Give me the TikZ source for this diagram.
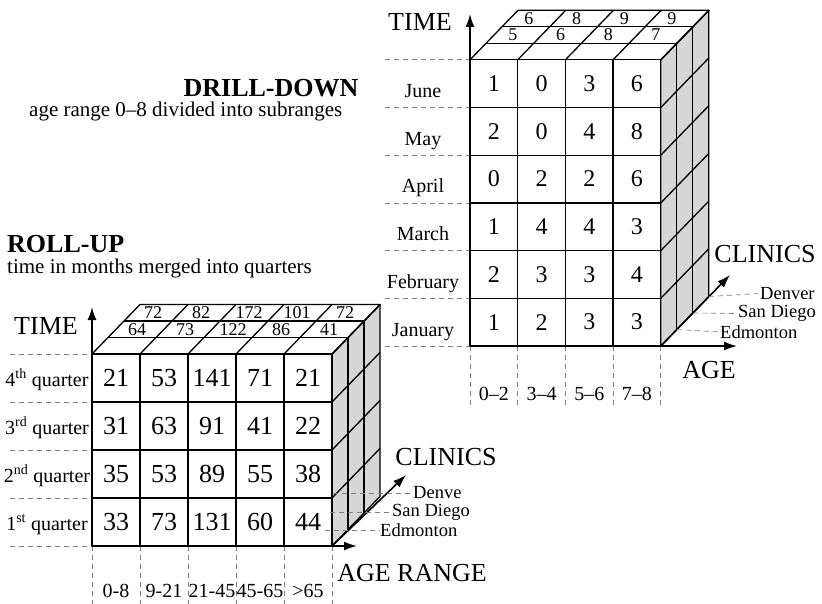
\documentclass[tikz,border=0pt]{standalone}
\usepackage{fontspec}
\setmainfont{Liberation Serif}
\usetikzlibrary{
    arrows.meta, % For arrow tips
    calc,        % For coordinate calculations
    positioning  % For label positioning
}
\definecolor{sidegray}{gray}{0.84}

% Visible faces of a data cube, front-bottom-left corner at the origin
% #1 = columns, #2 = rows, #3 = cell size (3 layers deep)
\newcommand{\cubefaces}[3]{%
    % Side face (grey)
    \filldraw[cube, fill=sidegray] (#1*#3,0) -- ++(48,-49.5) -- ++(0,-#2*#3) -- (#1*#3,-#2*#3) -- cycle;
    \foreach \k in {1,2} \draw[cube] (#1*#3+16*\k,-16.5*\k) -- ++(0,-#2*#3);
    \foreach \j in {1,...,#2} \draw[cube] (#1*#3,-\j*#3) -- ++(48,-49.5);
    % Top face
    \filldraw[cube, fill=white] (0,-#2*#3) -- ++(#1*#3,0) -- ++(48,-49.5) -- ++(-#1*#3,0) -- cycle;
    \foreach \k in {1,2} \draw[cube] (16*\k,-#2*#3-16.5*\k) -- ++(#1*#3,0);
    \foreach \i in {1,...,#1} \draw[cube] (\i*#3,-#2*#3) -- ++(48,-49.5);
    % Front face
    \filldraw[cube, fill=white] (0,0) rectangle (#1*#3,-#2*#3);
    \foreach \i in {1,...,#1} \draw[cube] (\i*#3,0) -- ++(0,-#2*#3);
    \foreach \j in {1,...,#2} \draw[cube] (0,-\j*#3) -- ++(#1*#3,0);
}

\begin{document}
\begin{tikzpicture}[
    x=1pt, y=-1pt,
    >=Latex,
    cube/.style={line width=1.3pt, line join=round},
    guide/.style={gray, line width=0.7pt, dash pattern=on 5pt off 4pt},
    axis/.style={-{Latex[length=13pt,width=9pt]}, line width=1.6pt},
    bignum/.style={font=\fontsize{24}{26}\selectfont},
    bignumB/.style={font=\fontsize{26}{28}\selectfont},
    topnum/.style={font=\fontsize{18}{20}\selectfont, inner sep=0pt},
    lbl/.style={font=\fontsize{20}{22}\selectfont, inner sep=1pt},
    clinic/.style={font=\fontsize{18.5}{20}\selectfont, inner sep=0pt},
    axislabel/.style={font=\fontsize{26}{28}\selectfont},
    headline/.style={font=\bfseries\fontsize{26}{28}\selectfont, inner sep=0pt},
    note/.style={font=\fontsize{21}{24}\selectfont, inner sep=0pt}
]
    \useasboundingbox (0,0) rectangle (822,604);

    % Headings
    \node[headline, anchor=base] (drill) at (271,97) {DRILL-DOWN};
    \node[note, anchor=base west] (drillnote) at (29,117) {age range 0–8 divided into subranges};
    \node[headline, anchor=base west] (roll) at (7,252) {ROLL-UP};
    \node[note, anchor=base west] (rollnote) at (7,273) {time in months merged into quarters};

    % ---------- Drill-down cube (months x age) ----------
    \begin{scope}[shift={(470,346)}]
        \def\cellT{47.7}
        % Guides to the row and column labels
        \foreach \j in {0,...,6} \draw[guide] (-85,{-\j*\cellT}) -- (0,{-\j*\cellT});
        \foreach \i in {0,...,4} \draw[guide] ({\i*\cellT},0) -- ({\i*\cellT},59);

        \cubefaces{4}{6}{47.7}

        % Front face values, bottom row first
        \foreach \row [count=\j] in {{1,2,3,3},{2,3,3,4},{1,4,4,3},{0,2,2,6},{2,0,4,8},{1,0,3,6}} {
            \foreach \val [count=\i] in \row
                \node[bignum] (dT-\j-\i) at ({(\i-0.5)*\cellT},{-(\j-0.5)*\cellT}) {\val};
        }
        % Top face values
        \foreach \val [count=\i] in {5,6,8,7}
            \node[topnum] (tT-a\i) at ({(\i-0.5)*\cellT+19},{-6*\cellT-24.75}) {\val};
        \foreach \val [count=\i] in {6,8,9,9}
            \node[topnum] (tT-b\i) at ({(\i-0.5)*\cellT+35},{-6*\cellT-41.25}) {\val};

        % Row and column labels
        \foreach \m [count=\j] in {January,February,March,April,May,June}
            \node[lbl, anchor=base] (month-\j) at (-47,{-(\j-1)*\cellT-10}) {\m};
        \foreach \a [count=\i] in {0–2,3–4,5–6,7–8}
            \node[lbl, anchor=base] (age-\i) at ({(\i-0.5)*\cellT},54) {\a};

        % Axes
        \coordinate (oT) at (0,0);
        \coordinate (cT) at ({4*\cellT},0);
        \coordinate (timeT) at (0,-332);
        \coordinate (ageT) at (267,0);
        \coordinate (clinT) at (260,-71);
        \draw[axis] (oT) -- (timeT);
        \draw[axis] (oT) -- (ageT);
        \draw[axis] (cT) -- (clinT);
        \node[axislabel] (timeLblT) at (-50,-324) {TIME};
        \node[axislabel] (ageLblT) at (239,24) {AGE};
        \node[axislabel] (clinLblT) at (295,-92) {CLINICS};

        % Clinics
        \node[clinic, anchor=west] (denT) at (290,-52.5) {Denver};
        \node[clinic, anchor=west] (sdT) at (268,-32.5) {San Diego};
        \node[clinic, anchor=west] (edT) at (250,-14) {Edmonton};
        \coordinate (k1T) at ({4*\cellT+16},-16.5);
        \coordinate (k2T) at ({4*\cellT+32},-33);
        \coordinate (k3T) at ({4*\cellT+48},-49.5);
        \draw[guide] (k3T) -- (denT.west);
        \draw[guide] (k2T) -- (sdT.west);
        \draw[guide] (k1T) -- (edT.west);
    \end{scope}

    % ---------- Roll-up cube (quarters x age range) ----------
    \begin{scope}[shift={(92,546)}]
        \def\cellB{48}
        % Guides to the row and column labels
        \foreach \j in {0,...,4} \draw[guide] (-82,{-\j*\cellB}) -- (0,{-\j*\cellB});
        \foreach \i in {0,...,5} \draw[guide] ({\i*\cellB},0) -- ({\i*\cellB},58);

        \cubefaces{5}{4}{48}

        % Front face values, bottom row first
        \foreach \row [count=\j] in {{33,73,131,60,44},{35,53,89,55,38},{31,63,91,41,22},{21,53,141,71,21}} {
            \foreach \val [count=\i] in \row
                \node[bignumB] (dB-\j-\i) at ({(\i-0.5)*\cellB},{-(\j-0.5)*\cellB}) {\val};
        }
        % Top face values
        \foreach \val [count=\i] in {64,73,122,86,41}
            \node[topnum] (tB-a\i) at ({(\i-0.5)*\cellB+21},{-4*\cellB-24.75}) {\val};
        \foreach \val [count=\i] in {72,82,172,101,72}
            \node[topnum] (tB-b\i) at ({(\i-0.5)*\cellB+37},{-4*\cellB-41.25}) {\val};

        % Row and column labels
        \foreach \q [count=\j] in {{1\textsuperscript{st} quarter},{2\textsuperscript{nd} quarter},{3\textsuperscript{rd} quarter},{4\textsuperscript{th} quarter}}
            \node[lbl, anchor=base] (quarter-\j) at (-45,{-(\j-1)*\cellB-16}) {\q};
        \foreach \a [count=\i] in {0-8,9-21,21-45,45-65,>65}
            \node[lbl, anchor=base] (range-\i) at ({(\i-0.5)*\cellB},51) {\a};

        % Axes
        \coordinate (oB) at (0,0);
        \coordinate (cB) at ({5*\cellB},0);
        \coordinate (timeB) at (0,-239);
        \coordinate (ageB) at (265,0);
        \coordinate (clinB) at (314,-71);
        \draw[axis] (oB) -- (timeB);
        \draw[axis] (oB) -- (ageB);
        \draw[axis] (cB) -- (clinB);
        \node[axislabel] (timeLblB) at (-46,-220) {TIME};
        \node[axislabel] (ageLblB) at (320,27) {AGE RANGE};
        \node[axislabel] (clinLblB) at (354,-89) {CLINICS};

        % Clinics
        \node[clinic, anchor=west] (denB) at (321,-53) {Denve};
        \node[clinic, anchor=west] (sdB) at (300,-34) {San Diego};
        \node[clinic, anchor=west] (edB) at (288,-16) {Edmonton};
        \coordinate (k3B) at (241,-53);
        \coordinate (k2B) at (238,-34);
        \coordinate (k1B) at (233,-16);
        \draw[guide] (k3B) -- (denB.west);
        \draw[guide] (k2B) -- (sdB.west);
        \draw[guide] (k1B) -- (edB.west);
    \end{scope}
\end{tikzpicture}
\end{document}
